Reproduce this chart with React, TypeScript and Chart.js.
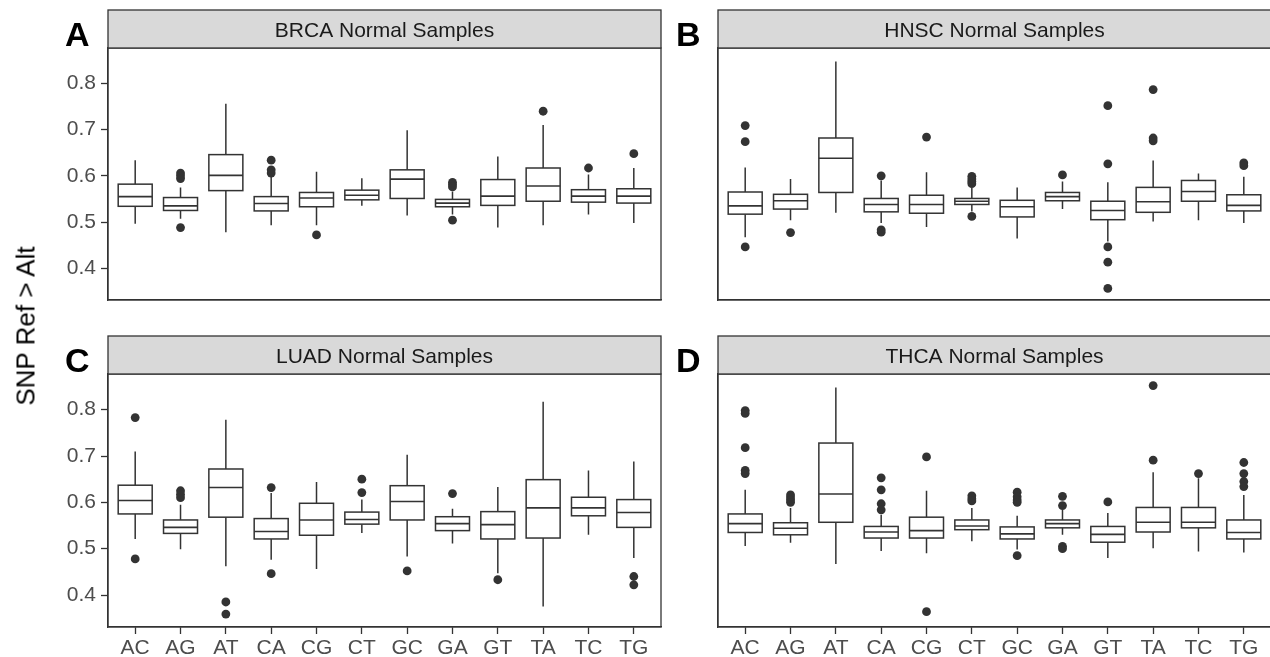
import React, { useEffect, useRef } from "react";
import { Chart, registerables } from "chart.js";

Chart.register(...registerables);
Chart.defaults.font.family = "'Liberation Sans', Arial, Helvetica, sans-serif";

// ---------------- data ----------------
const categories = ["AC", "AG", "AT", "CA", "CG", "CT", "GC", "GA", "GT", "TA", "TC", "TG"];
const yTicks = [0.4, 0.5, 0.6, 0.7, 0.8];
const yMin = 0.331;
const yMax = 0.877;
const yTitle = "SNP Ref > Alt";

// BRCA
const brcaLow = [0.496, 0.507, 0.478, 0.493, 0.493, 0.535, 0.514, 0.516, 0.488, 0.493, 0.516, 0.498];
const brcaQ1 = [0.534, 0.525, 0.568, 0.524, 0.533, 0.548, 0.551, 0.533, 0.536, 0.545, 0.543, 0.541];
const brcaMed = [0.555, 0.535, 0.601, 0.540, 0.552, 0.558, 0.593, 0.541, 0.556, 0.578, 0.556, 0.556];
const brcaQ3 = [0.582, 0.553, 0.646, 0.555, 0.564, 0.569, 0.613, 0.549, 0.592, 0.617, 0.570, 0.572];
const brcaHigh = [0.634, 0.575, 0.756, 0.598, 0.609, 0.595, 0.699, 0.566, 0.642, 0.710, 0.603, 0.617];
const brcaOut = [[], [0.606, 0.600, 0.594, 0.488], [], [0.634, 0.613, 0.606], [0.472], [], [], [0.586, 0.581, 0.576, 0.504], [], [0.740], [0.617], [0.648]];

// HNSC
const hnscLow = [0.467, 0.504, 0.520, 0.498, 0.489, 0.523, 0.464, 0.528, 0.458, 0.501, 0.504, 0.498];
const hnscQ1 = [0.517, 0.528, 0.564, 0.522, 0.519, 0.538, 0.511, 0.546, 0.505, 0.521, 0.545, 0.524];
const hnscMed = [0.535, 0.546, 0.638, 0.538, 0.538, 0.545, 0.533, 0.555, 0.525, 0.544, 0.566, 0.536];
const hnscQ3 = [0.565, 0.560, 0.682, 0.551, 0.558, 0.551, 0.547, 0.564, 0.545, 0.575, 0.590, 0.559];
const hnscHigh = [0.618, 0.593, 0.848, 0.590, 0.608, 0.574, 0.575, 0.588, 0.586, 0.633, 0.605, 0.598];
const hnscOut = [[0.709, 0.674, 0.446], [0.477], [], [0.600, 0.483, 0.478], [0.684], [0.599, 0.593, 0.588, 0.583, 0.512], [], [0.602], [0.752, 0.626, 0.446, 0.413, 0.356], [0.787, 0.682, 0.676], [], [0.628, 0.622]];

// LUAD
const luadLow = [0.521, 0.499, 0.462, 0.476, 0.456, 0.534, 0.483, 0.511, 0.447, 0.375, 0.530, 0.480];
const luadQ1 = [0.575, 0.533, 0.568, 0.521, 0.529, 0.553, 0.562, 0.539, 0.521, 0.523, 0.571, 0.546];
const luadMed = [0.604, 0.546, 0.632, 0.537, 0.562, 0.563, 0.602, 0.554, 0.552, 0.588, 0.588, 0.578];
const luadQ3 = [0.637, 0.562, 0.672, 0.565, 0.598, 0.579, 0.636, 0.569, 0.580, 0.649, 0.611, 0.606];
const luadHigh = [0.710, 0.595, 0.778, 0.620, 0.644, 0.606, 0.703, 0.586, 0.633, 0.817, 0.669, 0.688];
const luadOut = [[0.783, 0.478], [0.625, 0.617, 0.610], [0.385, 0.359], [0.632, 0.446], [], [0.650, 0.621], [0.452], [0.619], [0.433], [], [], [0.440, 0.422]];

// THCA
const thcaLow = [0.506, 0.513, 0.467, 0.495, 0.490, 0.516, 0.498, 0.530, 0.480, 0.501, 0.494, 0.492];
const thcaQ1 = [0.535, 0.530, 0.557, 0.523, 0.523, 0.541, 0.521, 0.545, 0.514, 0.536, 0.545, 0.521];
const thcaMed = [0.554, 0.544, 0.618, 0.536, 0.539, 0.549, 0.532, 0.554, 0.531, 0.557, 0.557, 0.535];
const thcaQ3 = [0.575, 0.556, 0.728, 0.548, 0.568, 0.562, 0.547, 0.562, 0.548, 0.589, 0.589, 0.562];
const thcaHigh = [0.627, 0.588, 0.848, 0.573, 0.625, 0.588, 0.571, 0.584, 0.577, 0.665, 0.652, 0.616];
const thcaOut = [[0.798, 0.792, 0.718, 0.669, 0.662], [0.616, 0.610, 0.605, 0.600], [], [0.653, 0.627, 0.597, 0.584], [0.698, 0.364], [0.614, 0.608, 0.603], [0.622, 0.612, 0.605, 0.600, 0.485], [0.613, 0.593, 0.505, 0.500], [0.601], [0.852, 0.691], [0.662], [0.686, 0.662, 0.645, 0.634]];

type Stats = { low: number[]; q1: number[]; med: number[]; q3: number[]; high: number[]; out: number[][] };

const panels = [
  { title: "BRCA Normal Samples", letter: "A", stats: { low: brcaLow, q1: brcaQ1, med: brcaMed, q3: brcaQ3, high: brcaHigh, out: brcaOut }, col: 0, row: 0 },
  { title: "HNSC Normal Samples", letter: "B", stats: { low: hnscLow, q1: hnscQ1, med: hnscMed, q3: hnscQ3, high: hnscHigh, out: hnscOut }, col: 1, row: 0 },
  { title: "LUAD Normal Samples", letter: "C", stats: { low: luadLow, q1: luadQ1, med: luadMed, q3: luadQ3, high: luadHigh, out: luadOut }, col: 0, row: 1 },
  { title: "THCA Normal Samples", letter: "D", stats: { low: thcaLow, q1: thcaQ1, med: thcaMed, q3: thcaQ3, high: thcaHigh, out: thcaOut }, col: 1, row: 1 },
];

// ---------------- layout ----------------
const COLS = [
  { canvasLeft: 0, canvasWidth: 670, yAxisW: 108, padRight: 9, letterLeft: 65 },
  { canvasLeft: 700, canvasWidth: 580, yAxisW: 18, padRight: 9, letterLeft: 676 },
];
const ROWS = [
  { canvasTop: 0, canvasHeight: 320, padTop: 48, xAxisH: 20, letterTop: 16.5 },
  { canvasTop: 326, canvasHeight: 331, padTop: 48, xAxisH: 30, letterTop: 342.5 },
];
const STRIP_H = 38;
const INK = "#333333";
const FONT = "'Liberation Sans', Arial, Helvetica, sans-serif";

function makePlugin(title: string, stats: Stats) {
  return {
    id: "boxplotDraw",
    beforeDatasetsDraw(chart: any) {
      const { ctx, scales } = chart;
      const x = scales.x;
      const y = scales.y;
      const half = x.getPixelForValue(0.375) - x.getPixelForValue(0);
      ctx.save();
      ctx.strokeStyle = INK;
      categories.forEach((_, i) => {
        const cx = x.getPixelForValue(i);
        const pLow = y.getPixelForValue(stats.low[i]);
        const pQ1 = y.getPixelForValue(stats.q1[i]);
        const pMed = y.getPixelForValue(stats.med[i]);
        const pQ3 = y.getPixelForValue(stats.q3[i]);
        const pHigh = y.getPixelForValue(stats.high[i]);
        ctx.lineWidth = 1.5;
        ctx.beginPath();
        ctx.moveTo(cx, pQ3);
        ctx.lineTo(cx, pHigh);
        ctx.moveTo(cx, pQ1);
        ctx.lineTo(cx, pLow);
        ctx.stroke();
        ctx.fillStyle = "#ffffff";
        ctx.fillRect(cx - half, pQ3, 2 * half, pQ1 - pQ3);
        ctx.strokeRect(cx - half, pQ3, 2 * half, pQ1 - pQ3);
        ctx.lineWidth = 1.6;
        ctx.beginPath();
        ctx.moveTo(cx - half, pMed);
        ctx.lineTo(cx + half, pMed);
        ctx.stroke();
      });
      ctx.restore();
    },
    afterDraw(chart: any) {
      const { ctx, chartArea: a } = chart;
      ctx.save();
      ctx.strokeStyle = INK;
      ctx.lineWidth = 1.3;
      ctx.strokeRect(a.left, a.top, a.right - a.left, a.bottom - a.top);
      ctx.fillStyle = "#D9D9D9";
      ctx.fillRect(a.left, a.top - STRIP_H, a.right - a.left, STRIP_H);
      ctx.strokeRect(a.left, a.top - STRIP_H, a.right - a.left, STRIP_H);
      const fs = 21;
      ctx.font = `${fs}px ${FONT}`;
      ctx.fillStyle = "#1A1A1A";
      ctx.textAlign = "center";
      ctx.textBaseline = "alphabetic";
      ctx.fillText(title, (a.left + a.right) / 2, a.top - STRIP_H / 2 + 0.716 * fs / 2);
      ctx.restore();
    },
  };
}

function Panel({ p }: { p: (typeof panels)[number] }) {
  const ref = useRef<HTMLCanvasElement>(null);
  const col = COLS[p.col];
  const row = ROWS[p.row];
  const showY = p.col === 0;
  const showX = p.row === 1;
  useEffect(() => {
    const points: { x: number; y: number }[] = [];
    p.stats.out.forEach((vals, i) => vals.forEach((v) => points.push({ x: i, y: v })));
    const chart = new Chart(ref.current as HTMLCanvasElement, {
      type: "scatter",
      data: {
        datasets: [
          {
            data: points,
            pointRadius: 4.4,
            pointHoverRadius: 4.4,
            pointBackgroundColor: INK,
            pointBorderWidth: 0,
            backgroundColor: INK,
            borderColor: INK,
          },
        ],
      },
      options: {
        animation: false,
        responsive: false,
        maintainAspectRatio: false,
        events: [],
        layout: { padding: { top: row.padTop, right: col.padRight, left: 0, bottom: 0 } },
        plugins: { legend: { display: false }, tooltip: { enabled: false }, title: { display: false } },
        scales: {
          x: {
            type: "linear",
            min: -0.6,
            max: 11.6,
            afterBuildTicks: (s: any) => {
              s.ticks = categories.map((_, i) => ({ value: i }));
            },
            afterFit: (s: any) => {
              s.height = row.xAxisH;
            },
            ticks: {
              display: showX,
              autoSkip: false,
              maxRotation: 0,
              padding: 2,
              color: "#4D4D4D",
              font: { size: 21, family: FONT },
              callback: (v: any) => categories[Math.round(Number(v))],
            },
            grid: { display: true, drawOnChartArea: false, drawTicks: showX, tickLength: 7, tickColor: INK, tickWidth: 1.3, color: INK },
            border: { display: true, color: INK, width: 1.3 },
          },
          y: {
            type: "linear",
            min: yMin,
            max: yMax,
            afterBuildTicks: (s: any) => {
              s.ticks = yTicks.map((v) => ({ value: v }));
            },
            afterFit: (s: any) => {
              s.width = col.yAxisW;
            },
            ticks: {
              display: showY,
              padding: 5,
              color: "#4D4D4D",
              font: { size: 21, family: FONT },
              callback: (v: any) => Number(v).toFixed(1),
            },
            grid: { display: true, drawOnChartArea: false, drawTicks: showY, tickLength: 7, tickColor: INK, tickWidth: 1.3, color: INK },
            border: { display: true, color: INK, width: 1.3 },
          },
        },
      },
      plugins: [makePlugin(p.title, p.stats)],
    } as any);
    return () => chart.destroy();
  }, []);
  return (
    <canvas
      ref={ref}
      width={col.canvasWidth}
      height={row.canvasHeight}
      style={{ position: "absolute", left: col.canvasLeft, top: row.canvasTop, width: col.canvasWidth, height: row.canvasHeight }}
    />
  );
}

export default function App() {
  return (
    <div style={{ position: "fixed", left: 0, top: 0, width: 1270, height: 657, overflow: "hidden", background: "#ffffff" }}>
      {panels.map((p) => (
        <Panel key={p.letter} p={p} />
      ))}
      {panels.map((p) => (
        <div
          key={"l" + p.letter}
          style={{
            position: "absolute",
            left: COLS[p.col].letterLeft,
            top: ROWS[p.row].letterTop,
            fontFamily: FONT,
            fontWeight: "bold",
            fontSize: 34,
            lineHeight: "34px",
            color: "#000",
          }}
        >
          {p.letter}
        </div>
      ))}
      <div
        style={{
          position: "absolute",
          left: 25.5,
          top: 326,
          transform: "translate(-50%, -50%) rotate(-90deg)",
          whiteSpace: "nowrap",
          fontFamily: FONT,
          fontSize: 26,
          color: "#000",
        }}
      >
        {yTitle}
      </div>
    </div>
  );
}
